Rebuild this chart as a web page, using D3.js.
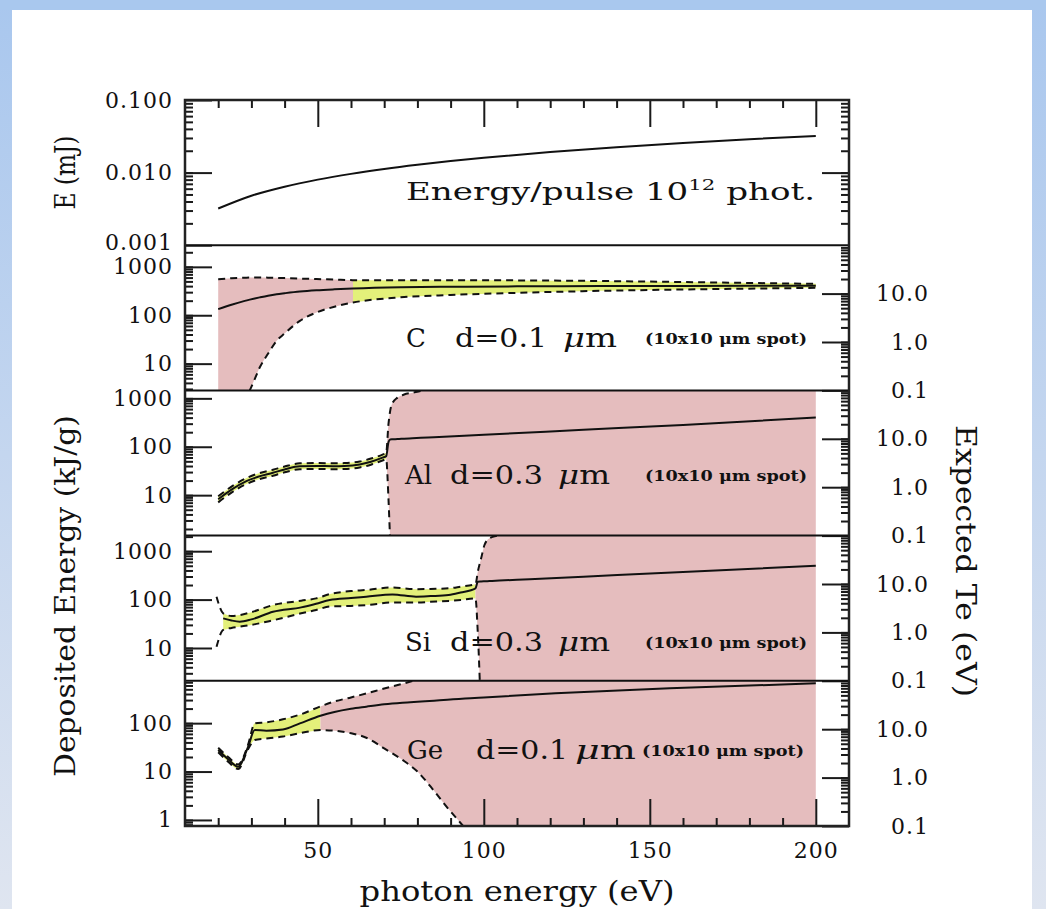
<!DOCTYPE html>
<html>
<head>
<meta charset="utf-8">
<script src="https://cdn.jsdelivr.net/npm/d3@7"></script>
<style>
  body { margin: 0; background: #fff; }
  svg { display: block; }
  text { font-family: "DejaVu Serif", serif; fill: #111; }
  .tick text { font-size: 22px; letter-spacing: 1px; }
  .tick line { stroke: #1a1a1a; stroke-width: 2; }
</style>
</head>
<body>
<div id="chart"></div>
<script>
// ---- data ----
var xDomain = [10, 210];
var xMajor = [50, 100, 150, 200];
var xMinor = [20, 30, 40, 60, 70, 80, 90, 110, 120, 130, 140, 160, 170, 180, 190];

// energy per pulse for 10^12 photons (mJ)
var pulseEv = [20, 30, 40, 50, 60, 70, 80, 90, 100, 120, 140, 160, 180, 200];
var pulseMj = [0.0032, 0.0048, 0.0064, 0.0080, 0.0096, 0.0112, 0.0128, 0.0144, 0.0160,
               0.0192, 0.0224, 0.0256, 0.0288, 0.0320];
var pulseDomain = [0.001, 0.1];
var pulseLabels = [0.1, 0.01, 0.001];

// deposited energy (kJ/g): middle, upper and lower curves
var cEv  = [20, 24, 28, 29.5, 31, 32.5, 35, 37.6, 40, 44.6, 49.6, 55, 60.6, 75, 90, 110, 135, 160, 200];
var cMid = [134, 165, 198, 210, 222, 234, 254, 272, 285, 309, 328, 343, 356, 378, 388, 395, 400, 403, 405];
var cHi  = [557, 580, 595, 600, 600, 600, 598, 592, 585, 572, 560, 545, 531, 530, 530, 525, 510, 485, 445];
var cLo  = [0.5, 0.9, 1.8, 2.8, 4.8, 8.3, 16, 29.6, 42, 76.6, 114, 150, 183, 235, 262, 290, 319, 340, 368];
var cRedEv = [20, 60.6], cYellowEv = [60.6, 200];

var alEv  = [20, 24, 28.5, 32, 36.5, 40, 44.6, 50, 54.5, 58, 62.6, 66, 69.5, 70.6, 71.3, 71.8,
             72.5, 74, 76, 78.5, 81, 85, 100, 130, 160, 200];
var alMid = [8.2, 13, 19.5, 24, 29, 34, 39.6, 40, 39.6, 40, 43, 49, 59.5, 64, 125, 142,
             143, 144, 147, 150, 153, 158, 177, 224, 283, 400];
var alHi  = [9.5, 15, 22.5, 28, 33.5, 39, 45.5, 46, 45.5, 46, 49.5, 57, 69, 75, 300, 550,
             800, 1035, 1200, 1310, 1420, 1700, 5000, 20000, 50000, 90000];
var alLo  = [7.1, 11.3, 17, 21, 25.2, 29.6, 34.4, 34.8, 34.4, 34.8, 37.4, 42.6, 52, 55, 8, 1.2,
             0.3, 0.1, 0.1, 0.1, 0.1, 0.1, 0.1, 0.1, 0.1, 0.1];
var alYellowEv = [20, 70.6], alRedEv = [70.6, 200];

var siEv  = [19.5, 21.5, 24, 26.5, 30, 36.5, 45, 49.5, 53.6, 60, 64.6, 72.5, 79.6, 84, 89.4, 93,
             97.5, 98.2, 99.2, 100.2, 101.7, 104.7, 110, 130, 160, 200];
var siMid = [null, 41, 37, 35, 39, 56, 69, 82, 98, 108, 115, 128, 115, 118, 124, 140,
             171, 235, 237, 239, 241, 247, 257, 298, 372, 501];
var siHi  = [115, 52, 46, 48, 55, 77, 95, 106, 130, 150, 158, 178, 164, 166, 171, 185,
             208, 377, 713, 1342, 1847, 2150, 3000, 10000, 30000, 90000];
var siLo  = [10.6, 23.6, 26, 27.6, 30, 37.4, 52, 61, 72, 74, 77, 87, 87, 90, 94, 98,
             106, 20, 0.5, 0.1, 0.1, 0.1, 0.1, 0.1, 0.1, 0.1];
var siYellowEv = [21.5, 97.5], siRedEv = [97.5, 200];

var geEv  = [20, 23, 26, 29, 31, 34.5, 39.5, 44.6, 50.8, 55, 60, 64.6, 70, 75.5, 80, 85, 89,
             92.5, 96, 100, 121.6, 156, 200];
var geMid = [28, 18, 12.6, 32.5, 72, 70, 74, 99, 142, 170, 198, 219, 245, 265, 278, 292, 305,
             315, 327, 340, 414, 525, 665];
var geHi  = [31, 20, 14, 36, 99, 104, 120, 150, 222, 280, 340, 410, 520, 650, 800, 1050, 1300,
             1500, 1800, 2200, 5000, 20000, 80000];
var geLo  = [25, 16, 11.3, 29, 45, 48, 53, 62, 72, 70, 62, 50, 30, 17.4, 10, 4.0, 1.8,
             0.95, 0.5, 0.3, 0.1, 0.1, 0.1];
var geYellowEv = [20, 50.8], geRedEv = [50.8, 200];

var materials = ["C", "Al", "Si", "Ge"];
var thickness = ["d=0.1", "d=0.3", "d=0.3", "d=0.1"];
var depositBottom = [2.8, 1.46, 2.1, 0.75];   // kJ/g at the bottom of each panel
var depositLabels = [[1000, 100, 10], [1000, 100, 10], [1000, 100, 10], [100, 10, 1]];
var teDomain = [0.1, 100];
var teLabels = [10, 1, 0.1];

// ---- layout ----
var W = 1046, H = 909;
var pLeft = 185, pRight = 849, pTop = 100, pBottom = 826;
var ph = (pBottom - pTop) / 5;
var red = "#e5bdbe", yellow = "#e3f07a";

var svg = d3.select("#chart").append("svg")
    .attr("width", W)
    .attr("height", H);

// page frame (light blue border)
var defs = svg.append("defs");
var grad = defs.append("linearGradient").attr("id", "side")
    .attr("x1", 0).attr("y1", 0).attr("x2", 0).attr("y2", 1);
grad.append("stop").attr("offset", "0%").attr("stop-color", "#a9c7ee");
grad.append("stop").attr("offset", "100%").attr("stop-color", "#dfe5f0");
svg.append("rect").attr("x", 0).attr("y", 0).attr("width", 12).attr("height", H).attr("fill", "url(#side)");
svg.append("rect").attr("x", 1032).attr("y", 0).attr("width", 14).attr("height", H).attr("fill", "url(#side)");
svg.append("rect").attr("x", 0).attr("y", 0).attr("width", W).attr("height", 10).attr("fill", "#a9c8ee");

var x = d3.scaleLinear().domain(xDomain).range([pLeft, pRight]);

function logMinors(domain) {
  var out = [];
  var a = Math.floor(Math.log10(domain[0])), b = Math.ceil(Math.log10(domain[1]));
  for (var d = a; d <= b; d++) {
    for (var k = 1; k <= 9; k++) {
      var v = k * Math.pow(10, d);
      if (v > domain[0] * 1.0001 && v < domain[1] * 0.9999) out.push(v);
    }
  }
  return out;
}

function cleanAxis(g) {
  g.select(".domain").remove();
  g.attr("font-family", null).attr("font-size", null);
}

function clipFor(id, y0, y1) {
  defs.append("clipPath").attr("id", id)
    .append("rect")
      .attr("x", pLeft).attr("y", y0)
      .attr("width", pRight - pLeft).attr("height", y1 - y0);
  return "url(#" + id + ")";
}

// ---- panel 0: energy per pulse ----
var yE = d3.scaleLog().domain(pulseDomain).range([pTop + ph, pTop]);

svg.append("g").attr("clip-path", clipFor("clip0", pTop, pTop + ph))
  .append("path")
    .datum(d3.zip(pulseEv, pulseMj))
    .attr("fill", "none")
    .attr("stroke", "#111")
    .attr("stroke-width", 2)
    .attr("d", d3.line()
      .x(function(d) { return x(d[0]); })
      .y(function(d) { return yE(d[1]); })
      .curve(d3.curveMonotoneX));

svg.append("g").attr("transform", "translate(" + pLeft + ",0)")
  .call(d3.axisLeft(yE).tickValues(logMinors(pulseDomain)).tickSize(-8).tickFormat(""))
  .call(cleanAxis);
var eAxis = svg.append("g").attr("transform", "translate(" + pLeft + ",0)")
  .call(d3.axisLeft(yE).tickValues(pulseLabels).tickSize(-27).tickPadding(12).tickFormat(d3.format(".3f")))
  .call(cleanAxis);
// the bottom label sits just above the next panel's top label
eAxis.selectAll("text").filter(function(d) { return d === 0.001; }).attr("dy", "0.2em");
svg.append("g").attr("transform", "translate(" + pRight + ",0)")
  .call(d3.axisRight(yE).tickValues(logMinors(pulseDomain)).tickSize(-8).tickFormat(""))
  .call(cleanAxis);
svg.append("g").attr("transform", "translate(" + pRight + ",0)")
  .call(d3.axisRight(yE).tickValues([0.01]).tickSize(-27).tickFormat(""))
  .call(cleanAxis);

// ---- material panels ----
var series = [
  {ev: cEv, mid: cMid, hi: cHi, lo: cLo, fills: [[cRedEv, red], [cYellowEv, yellow]]},
  {ev: alEv, mid: alMid, hi: alHi, lo: alLo, fills: [[alYellowEv, yellow], [alRedEv, red]]},
  {ev: siEv, mid: siMid, hi: siHi, lo: siLo, fills: [[siYellowEv, yellow], [siRedEv, red]]},
  {ev: geEv, mid: geMid, hi: geHi, lo: geLo, fills: [[geYellowEv, yellow], [geRedEv, red]]}
];

// text placement of the panel notes: [name x, thickness x, thickness width, um x, um width, baseline]
var notePos = [
  [406, 455, 92, 563, 54, 347],
  [405, 450, 93, 558, 52, 484],
  [405, 450, 93, 558, 52, 651],
  [407, 476, 92, 575, 61, 759]
];
var spotX = [645, 645, 645, 642];

series.forEach(function(s, i) {
  var y0 = pTop + (i + 1) * ph, y1 = y0 + ph;
  var lo = depositBottom[i];
  var y = d3.scaleLog().domain([lo, lo * 1000]).range([y1, y0]);
  var te = d3.scaleLog().domain(teDomain).range([y1, y0]);
  var pts = s.ev.map(function(e, k) { return {e: e, mid: s.mid[k], hi: s.hi[k], lo: s.lo[k]}; });

  var g = svg.append("g").attr("clip-path", clipFor("clip" + (i + 1), y0, y1));

  // uncertainty bands
  s.fills.forEach(function(f) {
    var part = pts.filter(function(p) { return p.e >= f[0][0] && p.e <= f[0][1]; });
    g.append("path")
      .datum(part)
      .attr("fill", f[1])
      .attr("stroke", "none")
      .attr("d", d3.area()
        .x(function(p) { return x(p.e); })
        .y0(function(p) { return y(p.lo); })
        .y1(function(p) { return y(p.hi); })
        .curve(d3.curveMonotoneX));
  });

  ["hi", "lo"].forEach(function(key) {
    g.append("path")
      .datum(pts)
      .attr("fill", "none")
      .attr("stroke", "#111")
      .attr("stroke-width", 2)
      .attr("stroke-dasharray", "7,5")
      .attr("d", d3.line()
        .x(function(p) { return x(p.e); })
        .y(function(p) { return y(p[key]); })
        .curve(d3.curveMonotoneX));
  });

  g.append("path")
    .datum(pts)
    .attr("fill", "none")
    .attr("stroke", "#111")
    .attr("stroke-width", 2)
    .attr("d", d3.line()
      .defined(function(p) { return p.mid != null; })
      .x(function(p) { return x(p.e); })
      .y(function(p) { return y(p.mid); })
      .curve(d3.curveMonotoneX));

  // left axis: kJ/g
  svg.append("g").attr("transform", "translate(" + pLeft + ",0)")
    .call(d3.axisLeft(y).tickValues(logMinors(y.domain())).tickSize(-8).tickFormat(""))
    .call(cleanAxis);
  svg.append("g").attr("transform", "translate(" + pLeft + ",0)")
    .call(d3.axisLeft(y).tickValues(depositLabels[i]).tickSize(-27).tickPadding(12).tickFormat(d3.format("d")))
    .call(cleanAxis);

  // right axis: expected Te
  svg.append("g").attr("transform", "translate(" + pRight + ",0)")
    .call(d3.axisRight(te).tickValues(logMinors(teDomain)).tickSize(-8).tickFormat(""))
    .call(cleanAxis);
  var ra = svg.append("g").attr("transform", "translate(" + pRight + ",0)")
    .call(d3.axisRight(te).tickValues(teLabels).tickSize(-27).tickFormat(d3.format(".1f")))
    .call(cleanAxis);
  ra.selectAll("text").attr("x", 80).attr("text-anchor", "end");

  // notes
  var np = notePos[i];
  svg.append("text").attr("x", np[0]).attr("y", np[5])
    .style("font-size", "26px").text(materials[i]);
  svg.append("text").attr("x", np[1]).attr("y", np[5])
    .style("font-size", "26px")
    .attr("textLength", np[2]).attr("lengthAdjust", "spacingAndGlyphs")
    .text(thickness[i]);
  var um = svg.append("text").attr("x", np[3]).attr("y", np[5])
    .style("font-size", "26px")
    .attr("textLength", np[4]).attr("lengthAdjust", "spacingAndGlyphs");
  um.append("tspan").style("font-style", "italic").text("\u03bc");
  um.append("tspan").text("m");
  svg.append("text").attr("x", spotX[i]).attr("y", np[5] - 3)
    .style("font-size", "14px").style("font-weight", "bold")
    .attr("textLength", 162).attr("lengthAdjust", "spacingAndGlyphs")
    .text("(10x10 \u03bcm spot)");
});

// ---- x axes (top of first panel, bottom of last panel) ----
svg.append("g").attr("transform", "translate(0," + pTop + ")")
  .call(d3.axisBottom(x).tickValues(xMinor).tickSize(8).tickFormat(""))
  .call(cleanAxis);
svg.append("g").attr("transform", "translate(0," + pTop + ")")
  .call(d3.axisBottom(x).tickValues(xMajor).tickSize(27).tickFormat(""))
  .call(cleanAxis);
svg.append("g").attr("transform", "translate(0," + pBottom + ")")
  .call(d3.axisBottom(x).tickValues(xMinor).tickSize(-8).tickFormat(""))
  .call(cleanAxis);
svg.append("g").attr("transform", "translate(0," + pBottom + ")")
  .call(d3.axisBottom(x).tickValues(xMajor).tickSize(-27).tickPadding(16).tickFormat(d3.format("d")))
  .call(cleanAxis);

// ---- frame and panel separators ----
for (var i = 1; i < 5; i++) {
  svg.append("line")
    .attr("x1", pLeft).attr("x2", pRight)
    .attr("y1", pTop + i * ph).attr("y2", pTop + i * ph)
    .attr("stroke", "#111").attr("stroke-width", 2);
}
svg.append("rect")
  .attr("x", pLeft).attr("y", pTop)
  .attr("width", pRight - pLeft).attr("height", pBottom - pTop)
  .attr("fill", "none").attr("stroke", "#222").attr("stroke-width", 2.5);

// ---- titles ----
var ep = svg.append("text").attr("x", 406).attr("y", 200)
  .style("font-size", "24px")
  .attr("textLength", 409).attr("lengthAdjust", "spacingAndGlyphs");
ep.append("tspan").text("Energy/pulse 10");
ep.append("tspan").attr("dy", -10).style("font-size", "15px").text("12");
ep.append("tspan").attr("dy", 10).text(" phot.");

svg.append("text")
  .attr("x", (pLeft + pRight) / 2).attr("y", 901)
  .attr("text-anchor", "middle")
  .style("font-size", "27px")
  .attr("textLength", 315).attr("lengthAdjust", "spacingAndGlyphs")
  .text("photon energy (eV)");

svg.append("text")
  .attr("transform", "translate(75," + (pTop + ph / 2) + ") rotate(-90)")
  .attr("text-anchor", "middle")
  .style("font-size", "27px")
  .attr("textLength", 74).attr("lengthAdjust", "spacingAndGlyphs")
  .text("E (mJ)");

svg.append("text")
  .attr("transform", "translate(75,596) rotate(-90)")
  .attr("text-anchor", "middle")
  .style("font-size", "27px")
  .attr("textLength", 362).attr("lengthAdjust", "spacingAndGlyphs")
  .text("Deposited Energy (kJ/g)");

svg.append("text")
  .attr("transform", "translate(956,561) rotate(90)")
  .attr("text-anchor", "middle")
  .style("font-size", "27px")
  .attr("textLength", 272).attr("lengthAdjust", "spacingAndGlyphs")
  .text("Expected Te (eV)");
</script>
</body>
</html>
